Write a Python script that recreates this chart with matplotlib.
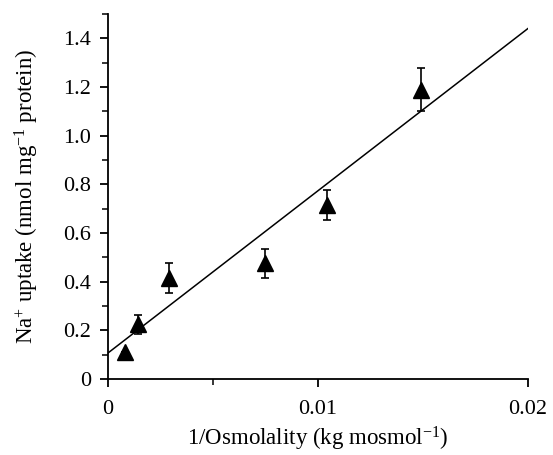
import matplotlib
matplotlib.use("Agg")
import matplotlib.pyplot as plt
import numpy as np
from matplotlib.ticker import MultipleLocator, FixedLocator

plt.rcParams['font.family'] = ['Liberation Serif', 'DejaVu Serif']
plt.rcParams['mathtext.fontset'] = 'custom'
plt.rcParams['mathtext.rm'] = 'Liberation Serif'
plt.rcParams['mathtext.it'] = 'Liberation Serif:italic'
plt.rcParams['mathtext.bf'] = 'Liberation Serif:bold'

# Data
inv_osmolality = [0.0008, 0.00143, 0.0029, 0.00748, 0.01043, 0.0149]
na_uptake = [0.11, 0.225, 0.415, 0.475, 0.715, 1.19]
uptake_err = [0.0, 0.04, 0.06, 0.06, 0.06, 0.09]

fit_intercept = 0.107
fit_slope = 66.7
fit_x = [0.0, 0.02]

fig = plt.figure(figsize=(5.53, 4.55), dpi=100)
ax = fig.add_axes([0.1953, 0.167, 0.7595, 0.802])

ax.errorbar(inv_osmolality, na_uptake, yerr=uptake_err, fmt='^', color='black',
            ms=11, ecolor='black', elinewidth=1.2, capsize=3, capthick=1.2, zorder=3)

fx = np.array(fit_x)
ax.plot(fx, fit_intercept + fit_slope * fx, color='black', lw=1.1, zorder=2)

ax.set_xlim(0, 0.02)
ax.set_ylim(0, 1.5)

ax.xaxis.set_major_locator(FixedLocator([0, 0.01, 0.02]))
ax.xaxis.set_minor_locator(FixedLocator([0.005]))
ax.set_xticklabels(['0', '0.01', '0.02'])
ax.yaxis.set_major_locator(FixedLocator([0, 0.2, 0.4, 0.6, 0.8, 1.0, 1.2, 1.4]))
ax.set_yticklabels(['0', '0.2', '0.4', '0.6', '0.8', '1.0', '1.2', '1.4'])
ax.yaxis.set_minor_locator(MultipleLocator(0.1))

for s in ['top', 'right']:
    ax.spines[s].set_visible(False)
for s in ['left', 'bottom']:
    ax.spines[s].set_linewidth(1.3)

ax.tick_params(axis='both', which='major', direction='out', length=6, width=1.3, labelsize=16)
ax.tick_params(axis='both', which='minor', direction='out', length=4, width=1.1)
ax.tick_params(axis='x', pad=9)
ax.tick_params(axis='y', pad=6)

ax.set_xlabel('1/Osmolality (kg mosmol$^{-1}$)', fontsize=16.5, labelpad=4)
ax.set_ylabel('Na$^{+}$ uptake (nmol mg$^{-1}$ protein)', fontsize=16.5, labelpad=16)

fig.savefig('out.png', dpi=100)
